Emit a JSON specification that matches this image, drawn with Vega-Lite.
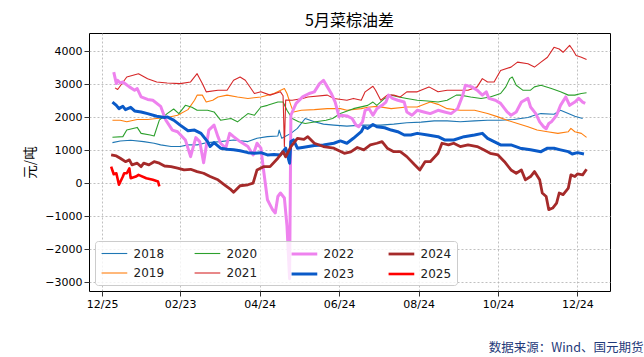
{
  "$schema": "https://vega.github.io/schema/vega-lite/v6.json",
  "width": 521,
  "height": 258,
  "autosize": {"type": "none"},
  "padding": {"left": 89, "top": 33, "right": 34, "bottom": 66},
  "background": "white",
  "title": {"text": "5月菜棕油差", "font": "Noto Sans CJK SC", "fontSize": 16, "fontWeight": "normal", "color": "#000", "anchor": "middle", "offset": 4},
  "config": {
    "view": {"stroke": "#000", "strokeWidth": 1},
    "axis": {"grid": true, "gridColor": "#b0b0b0", "gridDash": [2, 2], "gridWidth": 0.8, "domain": false, "tickColor": "#000", "tickSize": 5, "tickWidth": 0.8, "labelFont": "DejaVu Sans", "labelFontSize": 11, "labelColor": "#000", "labelPadding": 2},
    "legend": {"orient": "bottom-left", "offset": 6, "columns": 4, "symbolType": "M-1,0H3", "symbolSize": 165, "labelFont": "DejaVu Sans", "labelFontSize": 12, "labelColor": "#222", "labelOffset": 17.6, "columnPadding": 27, "rowPadding": 6, "padding": 5, "fillColor": "rgba(255,255,255,0.8)", "strokeColor": "#cccccc", "cornerRadius": 3, "title": null}
  },
  "data": {
    "values": [
      {"t": "2024-01-02", "v": 1230, "s": "2018"},
      {"t": "2024-01-08", "v": 1280, "s": "2018"},
      {"t": "2024-01-16", "v": 1300, "s": "2018"},
      {"t": "2024-01-26", "v": 1260, "s": "2018"},
      {"t": "2024-02-03", "v": 1210, "s": "2018"},
      {"t": "2024-02-08", "v": 1160, "s": "2018"},
      {"t": "2024-02-16", "v": 1110, "s": "2018"},
      {"t": "2024-02-23", "v": 1110, "s": "2018"},
      {"t": "2024-02-29", "v": 1160, "s": "2018"},
      {"t": "2024-03-07", "v": 1160, "s": "2018"},
      {"t": "2024-03-15", "v": 1230, "s": "2018"},
      {"t": "2024-03-25", "v": 1260, "s": "2018"},
      {"t": "2024-04-04", "v": 1310, "s": "2018"},
      {"t": "2024-04-15", "v": 1260, "s": "2018"},
      {"t": "2024-04-22", "v": 1360, "s": "2018"},
      {"t": "2024-04-30", "v": 1410, "s": "2018"},
      {"t": "2024-05-08", "v": 1430, "s": "2018"},
      {"t": "2024-05-09", "v": 1610, "s": "2018"},
      {"t": "2024-05-11", "v": 1360, "s": "2018"},
      {"t": "2024-05-18", "v": 1510, "s": "2018"},
      {"t": "2024-05-23", "v": 1660, "s": "2018"},
      {"t": "2024-05-29", "v": 1960, "s": "2018"},
      {"t": "2024-06-05", "v": 1860, "s": "2018"},
      {"t": "2024-06-12", "v": 1790, "s": "2018"},
      {"t": "2024-06-20", "v": 1760, "s": "2018"},
      {"t": "2024-06-30", "v": 1730, "s": "2018"},
      {"t": "2024-07-11", "v": 1760, "s": "2018"},
      {"t": "2024-07-26", "v": 1760, "s": "2018"},
      {"t": "2024-08-05", "v": 1790, "s": "2018"},
      {"t": "2024-08-15", "v": 1830, "s": "2018"},
      {"t": "2024-08-26", "v": 1850, "s": "2018"},
      {"t": "2024-09-05", "v": 1890, "s": "2018"},
      {"t": "2024-09-15", "v": 1890, "s": "2018"},
      {"t": "2024-09-25", "v": 1860, "s": "2018"},
      {"t": "2024-10-06", "v": 1890, "s": "2018"},
      {"t": "2024-10-16", "v": 1910, "s": "2018"},
      {"t": "2024-10-26", "v": 1910, "s": "2018"},
      {"t": "2024-11-05", "v": 1930, "s": "2018"},
      {"t": "2024-11-16", "v": 1990, "s": "2018"},
      {"t": "2024-11-21", "v": 2060, "s": "2018"},
      {"t": "2024-11-26", "v": 2110, "s": "2018"},
      {"t": "2024-12-06", "v": 2090, "s": "2018"},
      {"t": "2024-12-11", "v": 2210, "s": "2018"},
      {"t": "2024-12-17", "v": 2110, "s": "2018"},
      {"t": "2024-12-22", "v": 2030, "s": "2018"},
      {"t": "2024-12-28", "v": 1960, "s": "2018"},

      {"t": "2024-01-02", "v": 1910, "s": "2019"},
      {"t": "2024-01-08", "v": 1910, "s": "2019"},
      {"t": "2024-01-13", "v": 1860, "s": "2019"},
      {"t": "2024-01-21", "v": 1930, "s": "2019"},
      {"t": "2024-01-29", "v": 1930, "s": "2019"},
      {"t": "2024-02-05", "v": 1960, "s": "2019"},
      {"t": "2024-02-13", "v": 1990, "s": "2019"},
      {"t": "2024-02-21", "v": 2060, "s": "2019"},
      {"t": "2024-02-29", "v": 2230, "s": "2019"},
      {"t": "2024-03-05", "v": 2515, "s": "2019"},
      {"t": "2024-03-07", "v": 2670, "s": "2019"},
      {"t": "2024-03-11", "v": 2670, "s": "2019"},
      {"t": "2024-03-14", "v": 2460, "s": "2019"},
      {"t": "2024-03-19", "v": 2515, "s": "2019"},
      {"t": "2024-03-23", "v": 2615, "s": "2019"},
      {"t": "2024-03-30", "v": 2670, "s": "2019"},
      {"t": "2024-04-07", "v": 2615, "s": "2019"},
      {"t": "2024-04-15", "v": 2570, "s": "2019"},
      {"t": "2024-04-25", "v": 2615, "s": "2019"},
      {"t": "2024-05-05", "v": 2720, "s": "2019"},
      {"t": "2024-05-13", "v": 2870, "s": "2019"},
      {"t": "2024-05-15", "v": 2720, "s": "2019"},
      {"t": "2024-05-18", "v": 2360, "s": "2019"},
      {"t": "2024-05-20", "v": 2160, "s": "2019"},
      {"t": "2024-05-26", "v": 2210, "s": "2019"},
      {"t": "2024-06-05", "v": 2230, "s": "2019"},
      {"t": "2024-06-15", "v": 2260, "s": "2019"},
      {"t": "2024-06-25", "v": 2260, "s": "2019"},
      {"t": "2024-06-30", "v": 2210, "s": "2019"},
      {"t": "2024-07-11", "v": 2260, "s": "2019"},
      {"t": "2024-07-16", "v": 2300, "s": "2019"},
      {"t": "2024-07-23", "v": 2330, "s": "2019"},
      {"t": "2024-08-03", "v": 2260, "s": "2019"},
      {"t": "2024-08-15", "v": 2310, "s": "2019"},
      {"t": "2024-08-23", "v": 2310, "s": "2019"},
      {"t": "2024-09-02", "v": 2460, "s": "2019"},
      {"t": "2024-09-08", "v": 2390, "s": "2019"},
      {"t": "2024-09-15", "v": 2260, "s": "2019"},
      {"t": "2024-09-25", "v": 2210, "s": "2019"},
      {"t": "2024-10-06", "v": 2210, "s": "2019"},
      {"t": "2024-10-16", "v": 2110, "s": "2019"},
      {"t": "2024-10-24", "v": 2010, "s": "2019"},
      {"t": "2024-10-31", "v": 1910, "s": "2019"},
      {"t": "2024-11-08", "v": 1810, "s": "2019"},
      {"t": "2024-11-16", "v": 1710, "s": "2019"},
      {"t": "2024-11-23", "v": 1610, "s": "2019"},
      {"t": "2024-12-01", "v": 1560, "s": "2019"},
      {"t": "2024-12-09", "v": 1510, "s": "2019"},
      {"t": "2024-12-17", "v": 1560, "s": "2019"},
      {"t": "2024-12-19", "v": 1660, "s": "2019"},
      {"t": "2024-12-22", "v": 1560, "s": "2019"},
      {"t": "2024-12-27", "v": 1510, "s": "2019"},
      {"t": "2024-12-31", "v": 1390, "s": "2019"},

      {"t": "2024-01-02", "v": 1390, "s": "2020"},
      {"t": "2024-01-10", "v": 1410, "s": "2020"},
      {"t": "2024-01-13", "v": 1610, "s": "2020"},
      {"t": "2024-01-21", "v": 1690, "s": "2020"},
      {"t": "2024-01-24", "v": 1510, "s": "2020"},
      {"t": "2024-01-31", "v": 1460, "s": "2020"},
      {"t": "2024-02-03", "v": 1430, "s": "2020"},
      {"t": "2024-02-07", "v": 1910, "s": "2020"},
      {"t": "2024-02-13", "v": 2110, "s": "2020"},
      {"t": "2024-02-18", "v": 2250, "s": "2020"},
      {"t": "2024-02-22", "v": 2110, "s": "2020"},
      {"t": "2024-02-27", "v": 2360, "s": "2020"},
      {"t": "2024-03-03", "v": 2300, "s": "2020"},
      {"t": "2024-03-07", "v": 2210, "s": "2020"},
      {"t": "2024-03-15", "v": 2210, "s": "2020"},
      {"t": "2024-03-20", "v": 2160, "s": "2020"},
      {"t": "2024-03-25", "v": 1910, "s": "2020"},
      {"t": "2024-04-02", "v": 1960, "s": "2020"},
      {"t": "2024-04-07", "v": 1860, "s": "2020"},
      {"t": "2024-04-15", "v": 2110, "s": "2020"},
      {"t": "2024-04-20", "v": 2060, "s": "2020"},
      {"t": "2024-04-25", "v": 2310, "s": "2020"},
      {"t": "2024-04-30", "v": 2360, "s": "2020"},
      {"t": "2024-05-08", "v": 2460, "s": "2020"},
      {"t": "2024-05-12", "v": 2460, "s": "2020"},
      {"t": "2024-05-15", "v": 2210, "s": "2020"},
      {"t": "2024-05-19", "v": 1960, "s": "2020"},
      {"t": "2024-05-24", "v": 1860, "s": "2020"},
      {"t": "2024-05-29", "v": 1810, "s": "2020"},
      {"t": "2024-06-06", "v": 1860, "s": "2020"},
      {"t": "2024-06-14", "v": 1910, "s": "2020"},
      {"t": "2024-06-19", "v": 1960, "s": "2020"},
      {"t": "2024-06-25", "v": 2110, "s": "2020"},
      {"t": "2024-07-05", "v": 2260, "s": "2020"},
      {"t": "2024-07-16", "v": 2360, "s": "2020"},
      {"t": "2024-07-20", "v": 2460, "s": "2020"},
      {"t": "2024-07-23", "v": 2360, "s": "2020"},
      {"t": "2024-07-29", "v": 2570, "s": "2020"},
      {"t": "2024-08-03", "v": 2670, "s": "2020"},
      {"t": "2024-08-09", "v": 2615, "s": "2020"},
      {"t": "2024-08-15", "v": 2570, "s": "2020"},
      {"t": "2024-08-23", "v": 2515, "s": "2020"},
      {"t": "2024-08-31", "v": 2490, "s": "2020"},
      {"t": "2024-09-08", "v": 2460, "s": "2020"},
      {"t": "2024-09-15", "v": 2515, "s": "2020"},
      {"t": "2024-09-22", "v": 2670, "s": "2020"},
      {"t": "2024-09-25", "v": 2670, "s": "2020"},
      {"t": "2024-10-03", "v": 2615, "s": "2020"},
      {"t": "2024-10-11", "v": 2570, "s": "2020"},
      {"t": "2024-10-18", "v": 2615, "s": "2020"},
      {"t": "2024-10-26", "v": 2720, "s": "2020"},
      {"t": "2024-10-30", "v": 2920, "s": "2020"},
      {"t": "2024-11-02", "v": 3170, "s": "2020"},
      {"t": "2024-11-04", "v": 3220, "s": "2020"},
      {"t": "2024-11-07", "v": 2970, "s": "2020"},
      {"t": "2024-11-12", "v": 2820, "s": "2020"},
      {"t": "2024-11-18", "v": 2820, "s": "2020"},
      {"t": "2024-11-21", "v": 2920, "s": "2020"},
      {"t": "2024-11-26", "v": 2970, "s": "2020"},
      {"t": "2024-12-04", "v": 2870, "s": "2020"},
      {"t": "2024-12-11", "v": 2770, "s": "2020"},
      {"t": "2024-12-17", "v": 2670, "s": "2020"},
      {"t": "2024-12-22", "v": 2670, "s": "2020"},
      {"t": "2024-12-27", "v": 2720, "s": "2020"},
      {"t": "2024-12-31", "v": 2740, "s": "2020"},

      {"t": "2024-01-04", "v": 2890, "s": "2021"},
      {"t": "2024-01-06", "v": 2840, "s": "2021"},
      {"t": "2024-01-13", "v": 3220, "s": "2021"},
      {"t": "2024-01-22", "v": 3320, "s": "2021"},
      {"t": "2024-01-29", "v": 3170, "s": "2021"},
      {"t": "2024-02-05", "v": 3070, "s": "2021"},
      {"t": "2024-02-13", "v": 3040, "s": "2021"},
      {"t": "2024-02-23", "v": 3020, "s": "2021"},
      {"t": "2024-03-02", "v": 3070, "s": "2021"},
      {"t": "2024-03-07", "v": 3320, "s": "2021"},
      {"t": "2024-03-11", "v": 3020, "s": "2021"},
      {"t": "2024-03-14", "v": 2770, "s": "2021"},
      {"t": "2024-03-23", "v": 2820, "s": "2021"},
      {"t": "2024-03-30", "v": 2820, "s": "2021"},
      {"t": "2024-04-04", "v": 3120, "s": "2021"},
      {"t": "2024-04-09", "v": 3220, "s": "2021"},
      {"t": "2024-04-13", "v": 3120, "s": "2021"},
      {"t": "2024-04-20", "v": 2720, "s": "2021"},
      {"t": "2024-04-25", "v": 2770, "s": "2021"},
      {"t": "2024-05-02", "v": 2670, "s": "2021"},
      {"t": "2024-05-10", "v": 2770, "s": "2021"},
      {"t": "2024-05-12", "v": 2650, "s": "2021"},
      {"t": "2024-05-13", "v": 1110, "s": "2021"},
      {"t": "2024-05-14", "v": 2520, "s": "2021"},
      {"t": "2024-05-19", "v": 2515, "s": "2021"},
      {"t": "2024-05-27", "v": 2570, "s": "2021"},
      {"t": "2024-05-31", "v": 2615, "s": "2021"},
      {"t": "2024-06-15", "v": 2670, "s": "2021"},
      {"t": "2024-06-20", "v": 2570, "s": "2021"},
      {"t": "2024-06-30", "v": 2515, "s": "2021"},
      {"t": "2024-07-05", "v": 2570, "s": "2021"},
      {"t": "2024-07-11", "v": 2515, "s": "2021"},
      {"t": "2024-07-14", "v": 2770, "s": "2021"},
      {"t": "2024-07-20", "v": 2940, "s": "2021"},
      {"t": "2024-07-22", "v": 2820, "s": "2021"},
      {"t": "2024-07-26", "v": 2515, "s": "2021"},
      {"t": "2024-07-31", "v": 2670, "s": "2021"},
      {"t": "2024-08-05", "v": 2670, "s": "2021"},
      {"t": "2024-08-10", "v": 2615, "s": "2021"},
      {"t": "2024-08-15", "v": 2770, "s": "2021"},
      {"t": "2024-08-23", "v": 2770, "s": "2021"},
      {"t": "2024-09-01", "v": 2920, "s": "2021"},
      {"t": "2024-09-08", "v": 2770, "s": "2021"},
      {"t": "2024-09-15", "v": 2820, "s": "2021"},
      {"t": "2024-09-23", "v": 2820, "s": "2021"},
      {"t": "2024-10-01", "v": 2820, "s": "2021"},
      {"t": "2024-10-08", "v": 2920, "s": "2021"},
      {"t": "2024-10-12", "v": 3170, "s": "2021"},
      {"t": "2024-10-16", "v": 3070, "s": "2021"},
      {"t": "2024-10-21", "v": 3070, "s": "2021"},
      {"t": "2024-10-26", "v": 3420, "s": "2021"},
      {"t": "2024-11-03", "v": 3520, "s": "2021"},
      {"t": "2024-11-08", "v": 3670, "s": "2021"},
      {"t": "2024-11-16", "v": 3620, "s": "2021"},
      {"t": "2024-11-21", "v": 3520, "s": "2021"},
      {"t": "2024-11-26", "v": 3670, "s": "2021"},
      {"t": "2024-12-01", "v": 3820, "s": "2021"},
      {"t": "2024-12-06", "v": 4120, "s": "2021"},
      {"t": "2024-12-10", "v": 4070, "s": "2021"},
      {"t": "2024-12-13", "v": 3970, "s": "2021"},
      {"t": "2024-12-18", "v": 4180, "s": "2021"},
      {"t": "2024-12-20", "v": 4070, "s": "2021"},
      {"t": "2024-12-23", "v": 3870, "s": "2021"},
      {"t": "2024-12-27", "v": 3820, "s": "2021"},
      {"t": "2024-12-31", "v": 3750, "s": "2021"},

      {"t": "2024-01-03", "v": 3370, "s": "2022"},
      {"t": "2024-01-05", "v": 3020, "s": "2022"},
      {"t": "2024-01-06", "v": 3120, "s": "2022"},
      {"t": "2024-01-08", "v": 3040, "s": "2022"},
      {"t": "2024-01-10", "v": 3070, "s": "2022"},
      {"t": "2024-01-15", "v": 2920, "s": "2022"},
      {"t": "2024-01-19", "v": 2820, "s": "2022"},
      {"t": "2024-01-21", "v": 2870, "s": "2022"},
      {"t": "2024-01-24", "v": 2615, "s": "2022"},
      {"t": "2024-01-29", "v": 2540, "s": "2022"},
      {"t": "2024-02-02", "v": 2515, "s": "2022"},
      {"t": "2024-02-08", "v": 2330, "s": "2022"},
      {"t": "2024-02-12", "v": 1910, "s": "2022"},
      {"t": "2024-02-17", "v": 1610, "s": "2022"},
      {"t": "2024-02-21", "v": 1560, "s": "2022"},
      {"t": "2024-02-27", "v": 1310, "s": "2022"},
      {"t": "2024-03-02", "v": 805, "s": "2022"},
      {"t": "2024-03-06", "v": 1380, "s": "2022"},
      {"t": "2024-03-09", "v": 1260, "s": "2022"},
      {"t": "2024-03-12", "v": 620, "s": "2022"},
      {"t": "2024-03-16", "v": 1610, "s": "2022"},
      {"t": "2024-03-20", "v": 1760, "s": "2022"},
      {"t": "2024-03-23", "v": 1410, "s": "2022"},
      {"t": "2024-03-25", "v": 1210, "s": "2022"},
      {"t": "2024-03-29", "v": 1060, "s": "2022"},
      {"t": "2024-04-01", "v": 1510, "s": "2022"},
      {"t": "2024-04-04", "v": 1410, "s": "2022"},
      {"t": "2024-04-09", "v": 1260, "s": "2022"},
      {"t": "2024-04-15", "v": 1110, "s": "2022"},
      {"t": "2024-04-19", "v": 855, "s": "2022"},
      {"t": "2024-04-22", "v": 1210, "s": "2022"},
      {"t": "2024-04-25", "v": 1060, "s": "2022"},
      {"t": "2024-04-27", "v": 400, "s": "2022"},
      {"t": "2024-04-30", "v": -505, "s": "2022"},
      {"t": "2024-05-04", "v": -810, "s": "2022"},
      {"t": "2024-05-06", "v": -905, "s": "2022"},
      {"t": "2024-05-08", "v": -405, "s": "2022"},
      {"t": "2024-05-10", "v": -300, "s": "2022"},
      {"t": "2024-05-13", "v": -450, "s": "2022"},
      {"t": "2024-05-15", "v": -1300, "s": "2022"},
      {"t": "2024-05-17", "v": -2900, "s": "2022"},
      {"t": "2024-05-18", "v": 2060, "s": "2022"},
      {"t": "2024-05-22", "v": 2420, "s": "2022"},
      {"t": "2024-05-27", "v": 2615, "s": "2022"},
      {"t": "2024-06-01", "v": 2720, "s": "2022"},
      {"t": "2024-06-05", "v": 2770, "s": "2022"},
      {"t": "2024-06-09", "v": 3020, "s": "2022"},
      {"t": "2024-06-12", "v": 3120, "s": "2022"},
      {"t": "2024-06-15", "v": 2920, "s": "2022"},
      {"t": "2024-06-18", "v": 2720, "s": "2022"},
      {"t": "2024-06-21", "v": 2460, "s": "2022"},
      {"t": "2024-06-24", "v": 2010, "s": "2022"},
      {"t": "2024-06-25", "v": 2060, "s": "2022"},
      {"t": "2024-06-30", "v": 2040, "s": "2022"},
      {"t": "2024-07-04", "v": 1960, "s": "2022"},
      {"t": "2024-07-07", "v": 1760, "s": "2022"},
      {"t": "2024-07-09", "v": 1710, "s": "2022"},
      {"t": "2024-07-12", "v": 1860, "s": "2022"},
      {"t": "2024-07-14", "v": 2210, "s": "2022"},
      {"t": "2024-07-17", "v": 2260, "s": "2022"},
      {"t": "2024-07-20", "v": 2060, "s": "2022"},
      {"t": "2024-07-23", "v": 2260, "s": "2022"},
      {"t": "2024-07-27", "v": 2360, "s": "2022"},
      {"t": "2024-07-30", "v": 2460, "s": "2022"},
      {"t": "2024-08-01", "v": 2670, "s": "2022"},
      {"t": "2024-08-04", "v": 2570, "s": "2022"},
      {"t": "2024-08-08", "v": 2515, "s": "2022"},
      {"t": "2024-08-13", "v": 2460, "s": "2022"},
      {"t": "2024-08-15", "v": 2160, "s": "2022"},
      {"t": "2024-08-19", "v": 2060, "s": "2022"},
      {"t": "2024-08-23", "v": 2210, "s": "2022"},
      {"t": "2024-08-28", "v": 2160, "s": "2022"},
      {"t": "2024-09-02", "v": 2110, "s": "2022"},
      {"t": "2024-09-08", "v": 2210, "s": "2022"},
      {"t": "2024-09-13", "v": 2160, "s": "2022"},
      {"t": "2024-09-18", "v": 2110, "s": "2022"},
      {"t": "2024-09-23", "v": 2260, "s": "2022"},
      {"t": "2024-09-27", "v": 2670, "s": "2022"},
      {"t": "2024-09-29", "v": 2970, "s": "2022"},
      {"t": "2024-10-04", "v": 2920, "s": "2022"},
      {"t": "2024-10-08", "v": 2820, "s": "2022"},
      {"t": "2024-10-12", "v": 2670, "s": "2022"},
      {"t": "2024-10-15", "v": 2770, "s": "2022"},
      {"t": "2024-10-17", "v": 2570, "s": "2022"},
      {"t": "2024-10-22", "v": 2515, "s": "2022"},
      {"t": "2024-10-26", "v": 2420, "s": "2022"},
      {"t": "2024-10-31", "v": 2160, "s": "2022"},
      {"t": "2024-11-03", "v": 2060, "s": "2022"},
      {"t": "2024-11-07", "v": 2160, "s": "2022"},
      {"t": "2024-11-11", "v": 2460, "s": "2022"},
      {"t": "2024-11-16", "v": 2570, "s": "2022"},
      {"t": "2024-11-18", "v": 2310, "s": "2022"},
      {"t": "2024-11-22", "v": 2110, "s": "2022"},
      {"t": "2024-11-25", "v": 1860, "s": "2022"},
      {"t": "2024-11-28", "v": 1710, "s": "2022"},
      {"t": "2024-11-30", "v": 1650, "s": "2022"},
      {"t": "2024-12-02", "v": 1810, "s": "2022"},
      {"t": "2024-12-04", "v": 1860, "s": "2022"},
      {"t": "2024-12-08", "v": 2060, "s": "2022"},
      {"t": "2024-12-11", "v": 2360, "s": "2022"},
      {"t": "2024-12-15", "v": 2615, "s": "2022"},
      {"t": "2024-12-18", "v": 2360, "s": "2022"},
      {"t": "2024-12-22", "v": 2460, "s": "2022"},
      {"t": "2024-12-25", "v": 2570, "s": "2022"},
      {"t": "2024-12-28", "v": 2460, "s": "2022"},
      {"t": "2024-12-30", "v": 2420, "s": "2022"},

      {"t": "2024-01-02", "v": 2460, "s": "2023"},
      {"t": "2024-01-05", "v": 2360, "s": "2023"},
      {"t": "2024-01-07", "v": 2260, "s": "2023"},
      {"t": "2024-01-10", "v": 2330, "s": "2023"},
      {"t": "2024-01-12", "v": 2230, "s": "2023"},
      {"t": "2024-01-16", "v": 2300, "s": "2023"},
      {"t": "2024-01-19", "v": 2190, "s": "2023"},
      {"t": "2024-01-24", "v": 2160, "s": "2023"},
      {"t": "2024-01-29", "v": 2110, "s": "2023"},
      {"t": "2024-02-05", "v": 2030, "s": "2023"},
      {"t": "2024-02-11", "v": 1990, "s": "2023"},
      {"t": "2024-02-13", "v": 2010, "s": "2023"},
      {"t": "2024-02-18", "v": 1910, "s": "2023"},
      {"t": "2024-02-23", "v": 1760, "s": "2023"},
      {"t": "2024-02-29", "v": 1590, "s": "2023"},
      {"t": "2024-03-05", "v": 1610, "s": "2023"},
      {"t": "2024-03-10", "v": 1510, "s": "2023"},
      {"t": "2024-03-15", "v": 1260, "s": "2023"},
      {"t": "2024-03-17", "v": 1110, "s": "2023"},
      {"t": "2024-03-20", "v": 1230, "s": "2023"},
      {"t": "2024-03-25", "v": 1060, "s": "2023"},
      {"t": "2024-03-30", "v": 1030, "s": "2023"},
      {"t": "2024-04-04", "v": 1010, "s": "2023"},
      {"t": "2024-04-09", "v": 980, "s": "2023"},
      {"t": "2024-04-15", "v": 925, "s": "2023"},
      {"t": "2024-04-20", "v": 905, "s": "2023"},
      {"t": "2024-04-25", "v": 925, "s": "2023"},
      {"t": "2024-04-30", "v": 855, "s": "2023"},
      {"t": "2024-05-05", "v": 870, "s": "2023"},
      {"t": "2024-05-10", "v": 855, "s": "2023"},
      {"t": "2024-05-14", "v": 1060, "s": "2023"},
      {"t": "2024-05-17", "v": 605, "s": "2023"},
      {"t": "2024-05-18", "v": 1260, "s": "2023"},
      {"t": "2024-05-20", "v": 1310, "s": "2023"},
      {"t": "2024-05-23", "v": 1060, "s": "2023"},
      {"t": "2024-05-28", "v": 1090, "s": "2023"},
      {"t": "2024-06-05", "v": 1140, "s": "2023"},
      {"t": "2024-06-12", "v": 1160, "s": "2023"},
      {"t": "2024-06-20", "v": 1210, "s": "2023"},
      {"t": "2024-06-25", "v": 1280, "s": "2023"},
      {"t": "2024-06-30", "v": 1210, "s": "2023"},
      {"t": "2024-07-05", "v": 1360, "s": "2023"},
      {"t": "2024-07-11", "v": 1560, "s": "2023"},
      {"t": "2024-07-13", "v": 1710, "s": "2023"},
      {"t": "2024-07-16", "v": 1660, "s": "2023"},
      {"t": "2024-07-20", "v": 1780, "s": "2023"},
      {"t": "2024-07-23", "v": 1710, "s": "2023"},
      {"t": "2024-07-29", "v": 1680, "s": "2023"},
      {"t": "2024-08-03", "v": 1610, "s": "2023"},
      {"t": "2024-08-08", "v": 1560, "s": "2023"},
      {"t": "2024-08-13", "v": 1460, "s": "2023"},
      {"t": "2024-08-18", "v": 1460, "s": "2023"},
      {"t": "2024-08-23", "v": 1510, "s": "2023"},
      {"t": "2024-08-31", "v": 1460, "s": "2023"},
      {"t": "2024-09-08", "v": 1410, "s": "2023"},
      {"t": "2024-09-13", "v": 1310, "s": "2023"},
      {"t": "2024-09-20", "v": 1310, "s": "2023"},
      {"t": "2024-09-28", "v": 1410, "s": "2023"},
      {"t": "2024-10-06", "v": 1460, "s": "2023"},
      {"t": "2024-10-12", "v": 1510, "s": "2023"},
      {"t": "2024-10-16", "v": 1360, "s": "2023"},
      {"t": "2024-10-21", "v": 1260, "s": "2023"},
      {"t": "2024-10-26", "v": 1160, "s": "2023"},
      {"t": "2024-11-03", "v": 1160, "s": "2023"},
      {"t": "2024-11-10", "v": 1060, "s": "2023"},
      {"t": "2024-11-18", "v": 1010, "s": "2023"},
      {"t": "2024-11-26", "v": 955, "s": "2023"},
      {"t": "2024-12-01", "v": 1060, "s": "2023"},
      {"t": "2024-12-06", "v": 1060, "s": "2023"},
      {"t": "2024-12-11", "v": 1010, "s": "2023"},
      {"t": "2024-12-17", "v": 955, "s": "2023"},
      {"t": "2024-12-20", "v": 885, "s": "2023"},
      {"t": "2024-12-24", "v": 925, "s": "2023"},
      {"t": "2024-12-29", "v": 885, "s": "2023"},

      {"t": "2024-01-01", "v": 855, "s": "2024"},
      {"t": "2024-01-05", "v": 825, "s": "2024"},
      {"t": "2024-01-08", "v": 755, "s": "2024"},
      {"t": "2024-01-12", "v": 650, "s": "2024"},
      {"t": "2024-01-15", "v": 705, "s": "2024"},
      {"t": "2024-01-17", "v": 555, "s": "2024"},
      {"t": "2024-01-21", "v": 605, "s": "2024"},
      {"t": "2024-01-24", "v": 500, "s": "2024"},
      {"t": "2024-01-26", "v": 605, "s": "2024"},
      {"t": "2024-01-30", "v": 555, "s": "2024"},
      {"t": "2024-02-03", "v": 650, "s": "2024"},
      {"t": "2024-02-07", "v": 605, "s": "2024"},
      {"t": "2024-02-11", "v": 520, "s": "2024"},
      {"t": "2024-02-16", "v": 500, "s": "2024"},
      {"t": "2024-02-21", "v": 455, "s": "2024"},
      {"t": "2024-02-26", "v": 400, "s": "2024"},
      {"t": "2024-03-02", "v": 420, "s": "2024"},
      {"t": "2024-03-07", "v": 350, "s": "2024"},
      {"t": "2024-03-12", "v": 300, "s": "2024"},
      {"t": "2024-03-17", "v": 200, "s": "2024"},
      {"t": "2024-03-23", "v": 100, "s": "2024"},
      {"t": "2024-03-28", "v": -50, "s": "2024"},
      {"t": "2024-04-02", "v": -200, "s": "2024"},
      {"t": "2024-04-04", "v": -280, "s": "2024"},
      {"t": "2024-04-09", "v": -80, "s": "2024"},
      {"t": "2024-04-15", "v": -50, "s": "2024"},
      {"t": "2024-04-19", "v": 0, "s": "2024"},
      {"t": "2024-04-22", "v": 400, "s": "2024"},
      {"t": "2024-04-27", "v": 500, "s": "2024"},
      {"t": "2024-05-02", "v": 500, "s": "2024"},
      {"t": "2024-05-08", "v": 755, "s": "2024"},
      {"t": "2024-05-12", "v": 955, "s": "2024"},
      {"t": "2024-05-14", "v": 800, "s": "2024"},
      {"t": "2024-05-18", "v": 1110, "s": "2024"},
      {"t": "2024-05-23", "v": 1360, "s": "2024"},
      {"t": "2024-05-28", "v": 1330, "s": "2024"},
      {"t": "2024-05-31", "v": 1410, "s": "2024"},
      {"t": "2024-06-05", "v": 1210, "s": "2024"},
      {"t": "2024-06-12", "v": 1110, "s": "2024"},
      {"t": "2024-06-20", "v": 1060, "s": "2024"},
      {"t": "2024-06-28", "v": 905, "s": "2024"},
      {"t": "2024-07-03", "v": 950, "s": "2024"},
      {"t": "2024-07-08", "v": 1080, "s": "2024"},
      {"t": "2024-07-13", "v": 1010, "s": "2024"},
      {"t": "2024-07-18", "v": 1160, "s": "2024"},
      {"t": "2024-07-23", "v": 1210, "s": "2024"},
      {"t": "2024-07-27", "v": 1260, "s": "2024"},
      {"t": "2024-07-31", "v": 1060, "s": "2024"},
      {"t": "2024-08-05", "v": 955, "s": "2024"},
      {"t": "2024-08-10", "v": 955, "s": "2024"},
      {"t": "2024-08-15", "v": 805, "s": "2024"},
      {"t": "2024-08-21", "v": 555, "s": "2024"},
      {"t": "2024-08-25", "v": 400, "s": "2024"},
      {"t": "2024-08-29", "v": 650, "s": "2024"},
      {"t": "2024-09-02", "v": 650, "s": "2024"},
      {"t": "2024-09-08", "v": 905, "s": "2024"},
      {"t": "2024-09-11", "v": 1210, "s": "2024"},
      {"t": "2024-09-16", "v": 1160, "s": "2024"},
      {"t": "2024-09-20", "v": 1210, "s": "2024"},
      {"t": "2024-09-25", "v": 1110, "s": "2024"},
      {"t": "2024-10-01", "v": 1160, "s": "2024"},
      {"t": "2024-10-08", "v": 1110, "s": "2024"},
      {"t": "2024-10-13", "v": 1010, "s": "2024"},
      {"t": "2024-10-18", "v": 905, "s": "2024"},
      {"t": "2024-10-24", "v": 855, "s": "2024"},
      {"t": "2024-10-29", "v": 650, "s": "2024"},
      {"t": "2024-11-03", "v": 400, "s": "2024"},
      {"t": "2024-11-07", "v": 300, "s": "2024"},
      {"t": "2024-11-11", "v": 400, "s": "2024"},
      {"t": "2024-11-14", "v": 100, "s": "2024"},
      {"t": "2024-11-18", "v": 200, "s": "2024"},
      {"t": "2024-11-21", "v": 350, "s": "2024"},
      {"t": "2024-11-25", "v": 100, "s": "2024"},
      {"t": "2024-11-27", "v": -300, "s": "2024"},
      {"t": "2024-11-30", "v": -405, "s": "2024"},
      {"t": "2024-12-02", "v": -805, "s": "2024"},
      {"t": "2024-12-05", "v": -755, "s": "2024"},
      {"t": "2024-12-08", "v": -605, "s": "2024"},
      {"t": "2024-12-10", "v": -300, "s": "2024"},
      {"t": "2024-12-13", "v": -350, "s": "2024"},
      {"t": "2024-12-17", "v": -150, "s": "2024"},
      {"t": "2024-12-19", "v": 250, "s": "2024"},
      {"t": "2024-12-22", "v": 200, "s": "2024"},
      {"t": "2024-12-24", "v": 280, "s": "2024"},
      {"t": "2024-12-28", "v": 250, "s": "2024"},
      {"t": "2024-12-31", "v": 420, "s": "2024"},

      {"t": "2024-01-01", "v": 500, "s": "2025"},
      {"t": "2024-01-03", "v": 270, "s": "2025"},
      {"t": "2024-01-05", "v": 300, "s": "2025"},
      {"t": "2024-01-07", "v": -50, "s": "2025"},
      {"t": "2024-01-10", "v": 200, "s": "2025"},
      {"t": "2024-01-11", "v": 300, "s": "2025"},
      {"t": "2024-01-13", "v": 300, "s": "2025"},
      {"t": "2024-01-15", "v": 450, "s": "2025"},
      {"t": "2024-01-16", "v": 150, "s": "2025"},
      {"t": "2024-01-20", "v": 200, "s": "2025"},
      {"t": "2024-01-22", "v": 250, "s": "2025"},
      {"t": "2024-01-28", "v": 150, "s": "2025"},
      {"t": "2024-02-02", "v": 100, "s": "2025"},
      {"t": "2024-02-06", "v": 50, "s": "2025"},
      {"t": "2024-02-07", "v": -100, "s": "2025"}
    ]
  },
  "mark": {"type": "line", "strokeJoin": "round", "strokeCap": "butt"},
  "encoding": {
    "x": {
      "field": "t", "type": "temporal",
      "scale": {"type": "utc", "domain": [{"year": 2023, "month": 12, "date": 15, "utc": true}, {"year": 2025, "month": 1, "date": 18, "utc": true}]},
      "axis": {
        "values": [
          {"year": 2023, "month": 12, "date": 25, "utc": true},
          {"year": 2024, "month": 2, "date": 23, "utc": true},
          {"year": 2024, "month": 4, "date": 24, "utc": true},
          {"year": 2024, "month": 6, "date": 24, "utc": true},
          {"year": 2024, "month": 8, "date": 24, "utc": true},
          {"year": 2024, "month": 10, "date": 24, "utc": true},
          {"year": 2024, "month": 12, "date": 24, "utc": true}
        ],
        "labelExpr": "utcFormat(datum.value, '%m/%d')", "labelFlush": false, "labelOverlap": false,
        "title": "数据来源：Wind、国元期货", "titleFont": "Noto Sans CJK SC", "titleFontSize": 12.5, "titleFontWeight": "normal", "titleColor": "#1f3a7a",
        "titleX": 554, "titleY": 56, "titleAlign": "right", "titleBaseline": "middle", "titleAnchor": null
      }
    },
    "y": {
      "field": "v", "type": "quantitative",
      "scale": {"domain": [-3273, 4555], "nice": false, "zero": false},
      "axis": {
        "values": [-3000, -2000, -1000, 0, 1000, 2000, 3000, 4000],
        "format": "d",
        "title": "元/吨", "titleFont": "Noto Sans CJK SC", "titleFontSize": 13.5, "titleFontWeight": "normal", "titleColor": "#000",
        "titleX": -59, "titleY": 129, "titleAngle": 270, "titleAlign": "center", "titleBaseline": "middle"
      }
    },
    "color": {
      "field": "s", "type": "nominal",
      "scale": {"domain": ["2018", "2019", "2020", "2021", "2022", "2023", "2024", "2025"], "range": ["#1f77b4", "#ff7f0e", "#2ca02c", "#d62728", "#ee82ee", "#0a5ac8", "#a52a2a", "#ff0000"]}
    },
    "strokeWidth": {
      "field": "s", "type": "nominal",
      "scale": {"type": "ordinal", "domain": ["2018", "2019", "2020", "2021", "2022", "2023", "2024", "2025"], "range": [1.1, 1.1, 1.1, 1.1, 3, 3, 2.8, 2.6]}
    },
    "order": {"field": "t", "type": "temporal"}
  }
}
